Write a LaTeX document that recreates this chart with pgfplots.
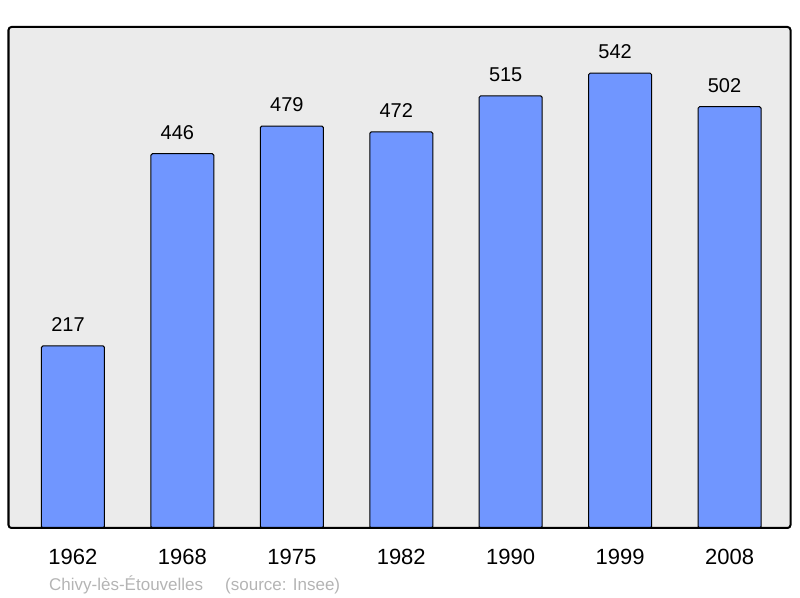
\documentclass[border=0pt]{standalone}
\usepackage{fontspec}
\setmainfont{Liberation Sans}
\usepackage{pgfplots}
\pgfplotsset{compat=1.18}
\definecolor{barblue}{HTML}{7096FF}
\definecolor{bggray}{HTML}{EBEBEB}
\definecolor{capgray}{HTML}{B4B4B4}
\begin{document}
\begin{tikzpicture}
\useasboundingbox (0,0) rectangle (800bp,598bp);
\begin{axis}[
  scale only axis, width=782bp, height=501bp,
  at={(8.5bp,70bp)}, anchor=south west,
  xmin=-0.589, xmax=6.557, ymin=0, ymax=597,
  axis line style={draw=none},
  axis background/.style={fill=bggray},
  ytick=\empty, xtick={0,...,6}, major tick length=0pt,
  xticklabels={1962,1968,1975,1982,1990,1999,2008},
  xticklabel style={anchor=base, inner sep=0pt, yshift=-37bp, font=\fontsize{22bp}{22bp}\selectfont},
  /pgf/number format/assume math mode=true,
  clip=false,
  nodes near coords,
  every node near coord/.append style={anchor=base, inner sep=0pt, yshift=14.4bp, xshift=-5bp, font=\fontsize{20bp}{20bp}\selectfont, text=black},
]
\addplot[ybar, bar width=63bp, fill=barblue, draw=black, line width=1bp, rounded corners=1.5bp]
  coordinates {(0,217) (1,446) (2,479) (3,472) (4,515) (5,542) (6,502)};
\draw[line width=2bp, rounded corners=3bp] (rel axis cs:0,0) rectangle (rel axis cs:1,1);
\end{axis}
\node[anchor=base west, inner sep=0pt, text=capgray, font=\fontsize{17bp}{17bp}\selectfont] at (49bp,8bp) {Chivy-lès-Étouvelles};
\node[anchor=base west, inner sep=0pt, text=capgray, font=\fontsize{17bp}{17bp}\selectfont] at (225bp,8bp) {(source: Insee)};
\end{tikzpicture}
\end{document}
